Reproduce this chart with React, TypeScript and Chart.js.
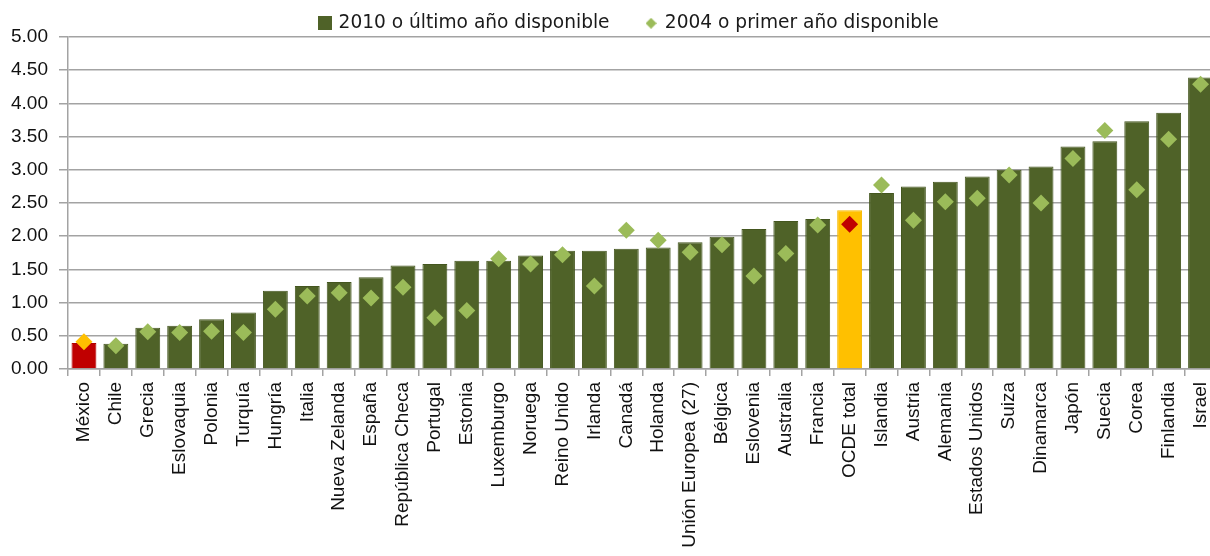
import React, { useEffect, useRef } from 'react';
import { Chart, registerables } from 'chart.js';

Chart.register(...registerables);

const categories = [
  'México', 'Chile', 'Grecia', 'Eslovaquia', 'Polonia', 'Turquía', 'Hungría', 'Italia',
  'Nueva Zelanda', 'España', 'República Checa', 'Portugal', 'Estonia', 'Luxemburgo',
  'Noruega', 'Reino Unido', 'Irlanda', 'Canadá', 'Holanda', 'Unión Europea (27)',
  'Bélgica', 'Eslovenia', 'Australia', 'Francia', 'OCDE total', 'Islandia', 'Austria',
  'Alemania', 'Estados Unidos', 'Suiza', 'Dinamarca', 'Japón', 'Suecia', 'Corea',
  'Finlandia', 'Israel',
];

const values2010 = [
  0.39, 0.38, 0.62, 0.65, 0.75, 0.85, 1.18, 1.25, 1.31, 1.38, 1.56, 1.58, 1.63, 1.63,
  1.71, 1.78, 1.78, 1.81, 1.83, 1.91, 1.99, 2.11, 2.23, 2.26, 2.39, 2.65, 2.75, 2.82,
  2.90, 3.00, 3.05, 3.35, 3.43, 3.73, 3.86, 4.39,
];

const values2004 = [
  0.41, 0.35, 0.56, 0.55, 0.57, 0.55, 0.90, 1.10, 1.15, 1.07, 1.23, 0.77, 0.88, 1.66,
  1.58, 1.72, 1.25, 2.09, 1.94, 1.76, 1.87, 1.40, 1.74, 2.17, 2.18, 2.77, 2.24, 2.52,
  2.57, 2.92, 2.50, 3.17, 3.59, 2.70, 3.46, 4.29,
];

const seriesLabels = ['2010 o último año disponible', '2004 o primer año disponible'];

const BAR_GREEN = '#4f6228';
const BAR_EDGE = '#44561f';
const DIAMOND_GREEN = '#9bbb59';
const RED = '#c00000';
const YELLOW = '#ffc000';
const GRID = '#a3a3a3';

const barColors = categories.map((c) =>
  c === 'México' ? RED : c === 'OCDE total' ? YELLOW : BAR_GREEN
);
const barEdges = categories.map((c) =>
  c === 'México' ? '#b00000' : c === 'OCDE total' ? '#f5b800' : BAR_EDGE
);
const pointColors = categories.map((c) =>
  c === 'México' ? YELLOW : c === 'OCDE total' ? RED : DIAMOND_GREEN
);

function makeMarker(kind: 'square' | 'diamond'): HTMLCanvasElement {
  const c = document.createElement('canvas');
  const s = kind === 'square' ? 14 : 11;
  c.width = s;
  c.height = s;
  const ctx = c.getContext('2d')!;
  if (kind === 'square') {
    ctx.fillStyle = BAR_GREEN;
    ctx.fillRect(0, 0, s, s);
  } else {
    ctx.fillStyle = DIAMOND_GREEN;
    ctx.beginPath();
    ctx.moveTo(s / 2, 0);
    ctx.lineTo(s, s / 2);
    ctx.lineTo(s / 2, s);
    ctx.lineTo(0, s / 2);
    ctx.closePath();
    ctx.fill();
  }
  return c;
}

export default function App() {
  const ref = useRef<HTMLCanvasElement>(null);

  useEffect(() => {
    if (!ref.current) return;
    const sq = makeMarker('square');
    const dm = makeMarker('diamond');

    const legendShift = {
      id: 'legendShift',
      afterLayout(chart: any) {
        const l = chart.legend;
        if (!l) return;
        l.left += 17;
        l.right += 17;
        l.top -= 32;
      },
    };

    const chart = new Chart(ref.current, {
      type: 'bar',
      data: {
        labels: categories,
        datasets: [
          {
            type: 'bar',
            label: seriesLabels[0],
            data: values2010,
            backgroundColor: barColors,
            borderColor: barEdges,
            borderWidth: 1,
            barPercentage: 0.78,
            categoryPercentage: 1,
            order: 2,
          } as any,
          {
            type: 'line',
            label: seriesLabels[1],
            data: values2004,
            showLine: false,
            pointStyle: 'rectRot',
            pointRadius: 8.5,
            pointHoverRadius: 8.5,
            pointBackgroundColor: pointColors,
            pointBorderWidth: 0,
            borderColor: 'transparent',
            backgroundColor: DIAMOND_GREEN,
            order: 1,
          } as any,
        ],
      },
      options: {
        animation: false,
        responsive: true,
        maintainAspectRatio: false,
        events: [],
        layout: { padding: { top: 9, left: 0, right: 0, bottom: 0 } },
        plugins: {
          tooltip: { enabled: false },
          legend: {
            position: 'top',
            maxHeight: 28,
            labels: {
              usePointStyle: true,
              pointStyleWidth: 9,
              padding: 37,
              color: '#1a1a1a',
              font: { family: 'DejaVu Sans', size: 18.6 },
              generateLabels: () => [
                {
                  text: seriesLabels[0],
                  fillStyle: BAR_GREEN,
                  strokeStyle: BAR_GREEN,
                  lineWidth: 0,
                  pointStyle: sq,
                  hidden: false,
                  datasetIndex: 0,
                  fontColor: '#1a1a1a',
                } as any,
                {
                  text: seriesLabels[1],
                  fillStyle: DIAMOND_GREEN,
                  strokeStyle: DIAMOND_GREEN,
                  lineWidth: 0,
                  pointStyle: dm,
                  hidden: false,
                  datasetIndex: 1,
                  fontColor: '#1a1a1a',
                } as any,
              ],
            },
          },
        },
        scales: {
          x: {
            offset: true,
            grid: {
              offset: true,
              drawOnChartArea: false,
              drawTicks: true,
              tickLength: 7,
              color: GRID,
              lineWidth: 1.5,
            },
            border: { color: GRID, width: 1.5 },
            ticks: {
              autoSkip: false,
              maxRotation: 90,
              minRotation: 90,
              padding: 6,
              color: '#111111',
              font: { family: 'Liberation Sans', size: 19 },
            },
            afterFit: (s: any) => {
              s.height = 187;
              s.paddingLeft = 0;
              s.paddingRight = 0;
            },
          },
          y: {
            min: 0,
            max: 5,
            ticks: {
              stepSize: 0.5,
              padding: 11,
              color: '#111111',
              font: { family: 'Liberation Sans', size: 19 },
              callback: (v: any) => Number(v).toFixed(2),
            },
            grid: { color: GRID, lineWidth: 1.5, tickLength: 9 },
            border: { color: GRID, width: 1.5 },
            afterFit: (s: any) => {
              s.width = 68;
            },
          },
        },
      } as any,
      plugins: [legendShift],
    });
    return () => chart.destroy();
  }, []);

  return (
    <div
      style={{
        position: 'absolute',
        left: 0,
        top: 0,
        width: 1210,
        height: 556,
        overflow: 'hidden',
        background: '#ffffff',
      }}
    >
      <div style={{ position: 'relative', width: 1225, height: 556 }}>
        <canvas ref={ref} />
      </div>
    </div>
  );
}
